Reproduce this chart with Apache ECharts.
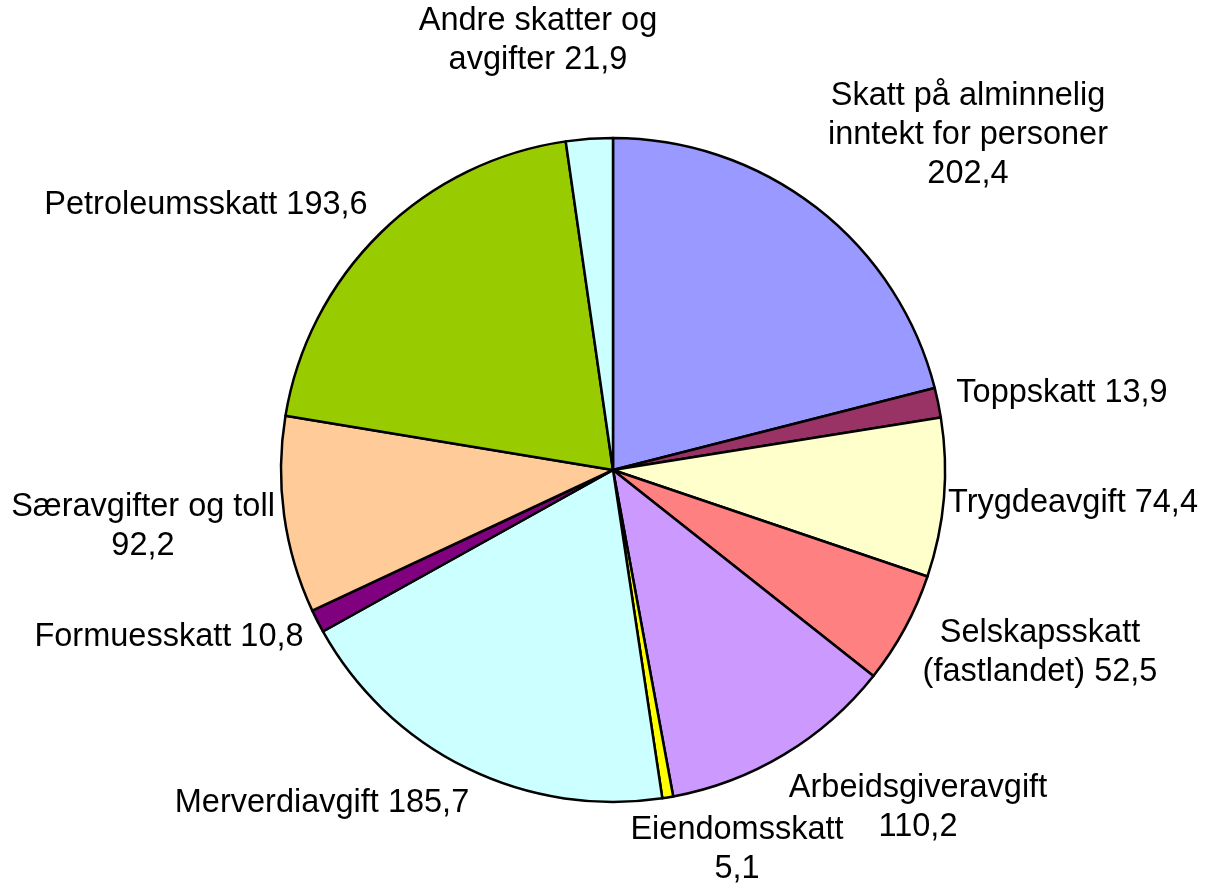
<!DOCTYPE html>
<html>
<head>
<meta charset="utf-8">
<script src="https://cdn.jsdelivr.net/npm/echarts@6/dist/echarts.min.js"></script>
<style>
html,body{margin:0;padding:0;background:#fff;}
#c{width:1210px;height:888px;}
</style>
</head>
<body>
<div id="c"></div>
<script>
const categories = ['Skatt på alminnelig inntekt for personer','Toppskatt','Trygdeavgift','Selskapsskatt (fastlandet)','Arbeidsgiveravgift','Eiendomsskatt','Merverdiavgift','Formuesskatt','Særavgifter og toll','Petroleumsskatt','Andre skatter og avgifter'];
const values = [202.4, 13.9, 74.4, 52.5, 110.2, 5.1, 185.7, 10.8, 92.2, 193.6, 21.9];
const labelLines = [
  ['Skatt på alminnelig','inntekt for personer'],
  ['Toppskatt'],
  ['Trygdeavgift'],
  ['Selskapsskatt','(fastlandet)'],
  ['Arbeidsgiveravgift'],
  ['Eiendomsskatt'],
  ['Merverdiavgift'],
  ['Formuesskatt'],
  ['Særavgifter og toll'],
  ['Petroleumsskatt'],
  ['Andre skatter og','avgifter']
];
// whether the value goes on its own line
const valueOwnLine = [true,false,false,false,true,true,false,false,true,false,false];
const colors = ['#9999FF','#993366','#FFFFCC','#FF8080','#CC99FF','#FFFF00','#CCFFFF','#800080','#FFCC99','#99CC00','#CCFFFF'];
// label anchor positions (text centres), layout only
const labelPos = [[968,135],[1062,393],[1073,503],[1040,653],[918,808],[737,850],[322,803],[169,637],[143,527],[206,205],[538,41]];

function fmt(v){ return v.toFixed(1).replace('.', ','); }
function labelText(i){
  const lines = labelLines[i].slice();
  const v = fmt(values[i]);
  if (valueOwnLine[i]) lines.push(v); else lines[lines.length-1] += ' ' + v;
  return lines.join('\n');
}

const chart = echarts.init(document.getElementById('c'), null, {renderer:'canvas'});
chart.setOption({
  animation:false,
  backgroundColor:'#ffffff',
  series:[{
    type:'pie',
    center:[613,470],
    radius:[0,332],
    startAngle:90,
    clockwise:true,
    silent:true,
    avoidLabelOverlap:false,
    data: categories.map((c,i)=>({name:c, value:values[i], itemStyle:{color:colors[i]}})),
    itemStyle:{borderColor:'#000', borderWidth:2.5},
    label:{
      show:true,
      position:'outside',
      formatter:(p)=>labelText(p.dataIndex),
      fontFamily:'Liberation Sans, Arial, sans-serif',
      fontSize:32.5,
      lineHeight:39,
      color:'#000',
      align:'center'
    },
    labelLine:{show:false},
    labelLayout:(params)=>({
      x: labelPos[params.dataIndex][0],
      y: labelPos[params.dataIndex][1],
      align:'center',
      verticalAlign:'middle'
    })
  }]
});
</script>
</body>
</html>
